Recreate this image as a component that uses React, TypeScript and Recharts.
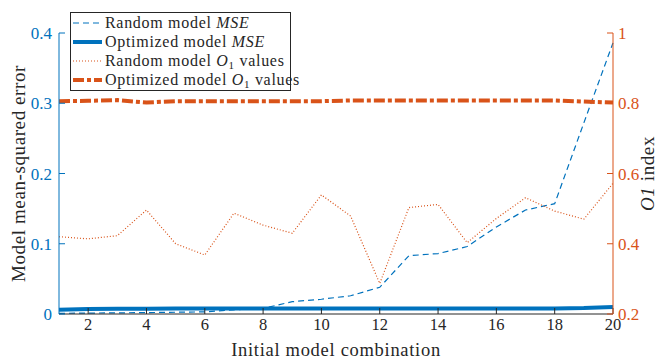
import React from "react"
import {
  ComposedChart,
  Line,
  XAxis,
  YAxis,
} from "recharts"

// ── data ──────────────────────────────────────────────────────────────────────

const combos = [1, 2, 3, 4, 5, 6, 7, 8, 9, 10, 11, 12, 13, 14, 15, 16, 17, 18, 19, 20]

const randomMse = [
  0.001, 0.0013, 0.0016, 0.002, 0.0025, 0.003, 0.006, 0.008, 0.0175, 0.021,
  0.026, 0.038, 0.083, 0.086, 0.096, 0.124, 0.148, 0.157, 0.272, 0.386,
]
const optimizedMse = [
  0.006, 0.007, 0.0075, 0.0075, 0.0078, 0.008, 0.008, 0.008, 0.008, 0.008,
  0.008, 0.008, 0.008, 0.008, 0.008, 0.008, 0.008, 0.008, 0.0085, 0.01,
]
const randomO1 = [
  0.42, 0.414, 0.423, 0.496, 0.4, 0.368, 0.487, 0.453, 0.43, 0.539,
  0.479, 0.287, 0.503, 0.512, 0.403, 0.472, 0.531, 0.493, 0.47, 0.572,
]
const optimizedO1 = [
  0.806, 0.807, 0.809, 0.802, 0.806, 0.806, 0.806, 0.806, 0.806, 0.806,
  0.808, 0.808, 0.808, 0.808, 0.808, 0.808, 0.808, 0.808, 0.805, 0.802,
]

const xTicks = [2, 4, 6, 8, 10, 12, 14, 16, 18, 20]
const mseTicks = [0, 0.1, 0.2, 0.3, 0.4]
const o1Ticks = [0.2, 0.4, 0.6, 0.8, 1]

// ── style ─────────────────────────────────────────────────────────────────────

const FONT = "'Liberation Serif', serif"
const BLUE = "#0072BD"
const ORANGE = "#D95319"
const AXIS = "#262626"

const data = combos.map((c, i) => ({
  combo: c,
  randomMse: randomMse[i],
  optimizedMse: optimizedMse[i],
  randomO1: randomO1[i],
  optimizedO1: optimizedO1[i],
}))

const fmt = (v: number) => String(v)

const sub1 = <sub style={{ fontSize: 11, lineHeight: 0, verticalAlign: "-3px" }}>1</sub>

const legendRows = [
  { dash: "6 4", width: 1.2, color: BLUE, label: <>Random model <i>MSE</i></> },
  { dash: undefined, width: 4, color: BLUE, label: <>Optimized model <i>MSE</i></> },
  { dash: "1 2", width: 1.2, color: ORANGE, label: <>Random model <i>O</i>{sub1} values</> },
  { dash: "11 3 4 3", width: 4, color: ORANGE, label: <>Optimized model <i>O</i>{sub1} values</> },
]

// legend drawn as an overlay box in the top-left of the plot
function LegendBox() {
  return (
    <div
      style={{
        position: "absolute",
        left: 70,
        top: 12,
        background: "#fff",
        border: `1px solid ${AXIS}`,
        fontFamily: FONT,
        fontSize: 16,
        letterSpacing: 0.7,
        color: AXIS,
        padding: "0 0 1px 1px",
        width: 221,
        boxSizing: "border-box",
      }}
    >
      {legendRows.map((r, i) => (
        <div key={i} style={{ display: "flex", alignItems: "center", height: 19, lineHeight: "18px" }}>
          <svg width={33} height={10} style={{ flex: "none" }}>
            <line x1={1} y1={5} x2={30} y2={5} stroke={r.color} strokeWidth={r.width} strokeDasharray={r.dash} />
          </svg>
          <span style={{ whiteSpace: "nowrap" }}>{r.label}</span>
        </div>
      ))}
    </div>
  )
}

// rotated y-axis titles, placed relative to the axis box
const leftTitle = (props: any) => {
  const { x, y, height } = props.viewBox
  const cx = x + 18
  const cy = y + height / 2
  return (
    <text
      x={cx}
      y={cy}
      transform={`rotate(-90 ${cx} ${cy})`}
      textAnchor="middle"
      dominantBaseline="central"
      fill={AXIS}
      fontSize={19}
      letterSpacing={0.6}
      fontFamily={FONT}
    >
      Model mean-squared error
    </text>
  )
}

const rightTitle = (props: any) => {
  const { x, y, height } = props.viewBox
  const cx = x + 34
  const cy = y + height / 2
  return (
    <text
      x={cx}
      y={cy}
      transform={`rotate(-90 ${cx} ${cy})`}
      textAnchor="middle"
      dominantBaseline="central"
      fill={AXIS}
      fontSize={19}
      letterSpacing={0.6}
      fontFamily={FONT}
    >
      <tspan fontStyle="italic">O1</tspan> index
    </text>
  )
}

const bottomTitle = (props: any) => {
  const { x, y, width } = props.viewBox
  return (
    <text
      x={x + width / 2}
      y={y + 42}
      textAnchor="middle"
      fill={AXIS}
      fontSize={18.5}
      letterSpacing={0.7}
      fontFamily={FONT}
    >
      Initial model combination
    </text>
  )
}

export default function App() {
  return (
    <div style={{ position: "absolute", left: 0, top: 0, width: 661, height: 360, background: "#fff" }}>
      <ComposedChart
        width={661}
        height={360}
        data={data}
        margin={{ top: 33, right: 0, bottom: 0, left: 0 }}
      >
        <XAxis
          dataKey="combo"
          type="number"
          domain={[1, 20]}
          ticks={xTicks}
          height={46}
          stroke={AXIS}
          tickSize={-6}
          tickMargin={10}
          tick={{ fill: AXIS, fontSize: 16.5, fontFamily: FONT }}
          label={{ content: bottomTitle }}
        />
        <XAxis
          xAxisId="top"
          dataKey="combo"
          type="number"
          orientation="top"
          domain={[1, 20]}
          ticks={xTicks}
          height={0}
          stroke={AXIS}
          tickSize={-6}
          tickFormatter={() => ""}
        />
        <YAxis
          yAxisId="mse"
          domain={[0, 0.4]}
          ticks={mseTicks}
          width={59}
          stroke={BLUE}
          tickSize={-6}
          tickMargin={13}
          tickFormatter={fmt}
          tick={{ fill: BLUE, fontSize: 17, fontFamily: FONT }}
          label={{ content: leftTitle }}
        />
        <YAxis
          yAxisId="o1"
          orientation="right"
          domain={[0.2, 1]}
          ticks={o1Ticks}
          width={48}
          stroke={ORANGE}
          tickSize={-6}
          tickMargin={11}
          tickFormatter={fmt}
          tick={{ fill: ORANGE, fontSize: 17, fontFamily: FONT }}
          label={{ content: rightTitle }}
        />
        <Line
          yAxisId="mse"
          dataKey="randomMse"
          stroke={BLUE}
          strokeWidth={1.2}
          strokeDasharray="6 4"
          dot={false}
          type="linear"
          isAnimationActive={false}
        />
        <Line
          yAxisId="mse"
          dataKey="optimizedMse"
          stroke={BLUE}
          strokeWidth={4}
          dot={false}
          type="linear"
          isAnimationActive={false}
        />
        <Line
          yAxisId="o1"
          dataKey="randomO1"
          stroke={ORANGE}
          strokeWidth={1.2}
          strokeDasharray="1 2"
          dot={false}
          type="linear"
          isAnimationActive={false}
        />
        <Line
          yAxisId="o1"
          dataKey="optimizedO1"
          stroke={ORANGE}
          strokeWidth={4}
          strokeDasharray="11 3 4 3"
          dot={false}
          type="linear"
          isAnimationActive={false}
        />
      </ComposedChart>
      <LegendBox />
    </div>
  )
}
